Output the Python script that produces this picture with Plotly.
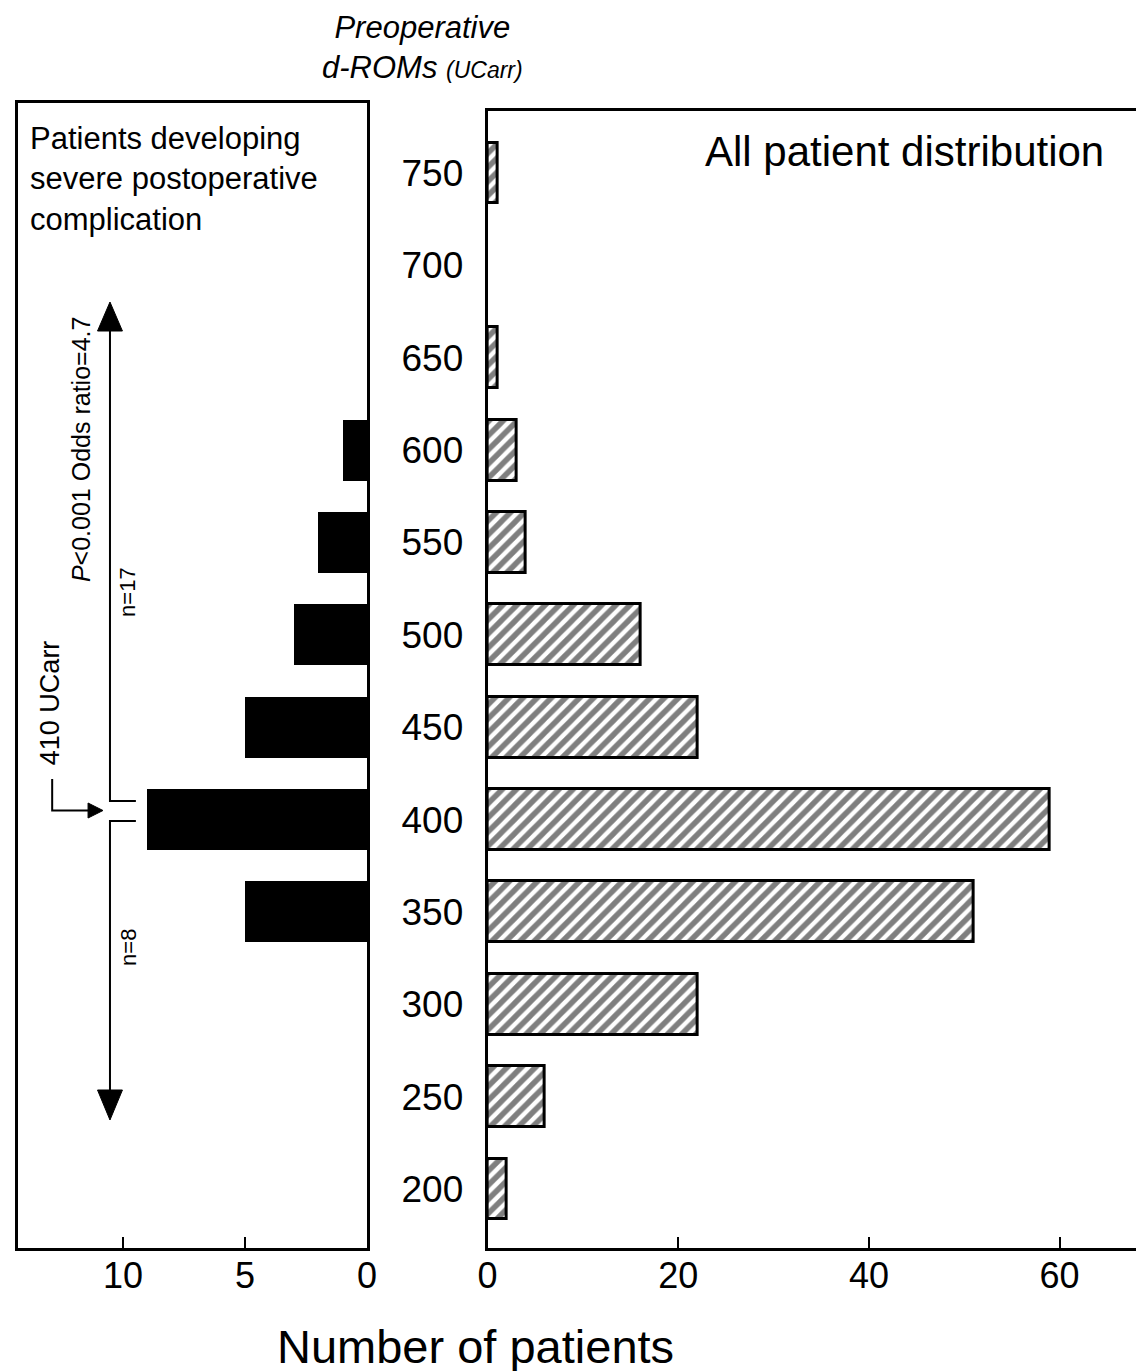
import plotly.graph_objects as go

# ---------------- data ----------------
droms_bins = [750, 700, 650, 600, 550, 500, 450, 400, 350, 300, 250, 200]
complication_counts = [0, 0, 0, 1, 2, 3, 5, 9, 5, 0, 0, 0]
all_patient_counts = [1, 0, 1, 3, 4, 16, 22, 59, 51, 22, 6, 2]
left_xticks = [10, 5, 0]
right_xticks = [0, 20, 40, 60]
threshold = 410

W, H = 1144, 1371
FONT = "Liberation Sans, Arial, Helvetica, sans-serif"
# observed page placement of the figure (page margin compensation)
X0, WEFF = 14.7, 1128.0
Y0 = 8


def px(x):
    return max(0.0, (x - X0) / WEFF)


def py(y):
    return 1 - (y - Y0) / H


# y scale helper (pixel -> data) for annotation geometry
Y_PER_PX = 550 / (1189 - 173)


def ydat(ypix):
    return 200 + (1189 - ypix) * Y_PER_PX


def nonzero(bins, counts):
    pairs = [(b, c) for b, c in zip(bins, counts) if c > 0]
    return [p[0] for p in pairs], [p[1] for p in pairs]


left_y, left_x = nonzero(droms_bins, complication_counts)
right_y, right_x = nonzero(droms_bins, all_patient_counts)

fig = go.Figure()

fig.add_trace(go.Bar(
    y=left_y, x=left_x, orientation="h",
    xaxis="x", yaxis="y", width=33,
    marker=dict(color="black", line=dict(width=0)),
    showlegend=False,
))

fig.add_trace(go.Bar(
    y=right_y, x=right_x, orientation="h",
    xaxis="x2", yaxis="y2", width=33,
    marker=dict(color="white",
                pattern=dict(shape="/", fgcolor="black", bgcolor="white",
                             size=10, solidity=0.55),
                line=dict(color="black", width=3)),
    showlegend=False,
))

axis_common = dict(showgrid=False, zeroline=False, linecolor="black",
                   linewidth=3, showline=True)

left_px_per_unit = 24.5
right_px_per_unit = 9.567
left_start = X0 + px(12) * WEFF

fig.update_layout(
    width=W, height=H,
    margin=dict(l=0, r=0, t=0, b=0),
    paper_bgcolor="white", plot_bgcolor="white",
    font=dict(family=FONT, color="black"),
    bargap=0,
    xaxis=dict(domain=[px(12), px(365)],
               range=[(365 - left_start) / left_px_per_unit, 0], anchor="y",
               tickvals=left_xticks, ticks="inside", ticklen=11, tickwidth=2,
               tickcolor="black", mirror=True, ticklabelstandoff=-6,
               tickfont=dict(size=36, family=FONT), **axis_common),
    yaxis=dict(domain=[py(1248), py(103)], range=[ydat(1248), ydat(103)],
               anchor="x", showticklabels=False, ticks="", mirror=True,
               **axis_common),
    xaxis2=dict(domain=[px(486), 1.0],
                range=[0, (X0 + WEFF - 486) / right_px_per_unit],
                anchor="y2", tickvals=right_xticks, ticks="inside", ticklen=11,
                tickwidth=2, tickcolor="black", mirror=True, ticklabelstandoff=-6,
                tickfont=dict(size=36, family=FONT), **axis_common),
    yaxis2=dict(domain=[py(1248), py(111)], range=[ydat(1248), ydat(111)],
                anchor="x2", tickvals=droms_bins, ticks="",
                ticklabelstandoff=14, mirror=False,
                tickfont=dict(size=37, family=FONT), **axis_common),
)

annotations = [
    dict(text="<i>Preoperative<br>d-ROMs <span style='font-size:23px'>(UCarr)</span></i>",
         x=px(421), y=py(48), xref="paper", yref="paper",
         xanchor="center", yanchor="middle", showarrow=False,
         font=dict(size=31, family=FONT), align="center"),
    dict(text="Patients developing<br>severe postoperative<br>complication",
         x=px(25), y=py(119), xref="paper", yref="paper",
         xanchor="left", yanchor="top", showarrow=False, align="left",
         font=dict(size=31, family=FONT)),
    dict(text="All patient distribution",
         x=px(904), y=py(151), xref="paper", yref="paper",
         xanchor="center", yanchor="middle", showarrow=False,
         font=dict(size=42, family=FONT)),
    dict(text="Number of patients",
         x=px(474), y=py(1346), xref="paper", yref="paper",
         xanchor="center", yanchor="middle", showarrow=False,
         font=dict(size=47, family=FONT)),
    dict(text="<i>P</i>&lt;0.001 Odds ratio=4.7",
         x=px(78), y=py(450), xref="paper", yref="paper",
         xanchor="center", yanchor="middle", showarrow=False, textangle=-90,
         font=dict(size=25, family=FONT)),
    dict(text="n=17",
         x=px(125), y=py(592), xref="paper", yref="paper",
         xanchor="center", yanchor="middle", showarrow=False, textangle=-90,
         font=dict(size=22, family=FONT)),
    dict(text="n=8",
         x=px(125), y=py(947), xref="paper", yref="paper",
         xanchor="center", yanchor="middle", showarrow=False, textangle=-90,
         font=dict(size=22, family=FONT)),
    dict(text="410 UCarr",
         x=px(47), y=py(703), xref="paper", yref="paper",
         xanchor="center", yanchor="middle", showarrow=False, textangle=-90,
         font=dict(size=27, family=FONT)),
]
fig.update_layout(annotations=annotations)

# bracket / arrow geometry (x in paper, y in data units of left panel)
gap_mid = ydat(810.5)
lower_bracket = ydat(821)
shapes = []
line_style = dict(color="black", width=2)
shapes.append(dict(type="path", xref="paper", yref="y",
                   path=f"M {px(107)},{ydat(328)} L {px(107)},{threshold} L {px(133)},{threshold}",
                   line=line_style))
shapes.append(dict(type="path", xref="paper", yref="y",
                   path=f"M {px(133)},{lower_bracket} L {px(107)},{lower_bracket} L {px(107)},{ydat(1092)}",
                   line=line_style))
shapes.append(dict(type="path", xref="paper", yref="y",
                   path=f"M {px(107)},{ydat(302)} L {px(94.5)},{ydat(331)} L {px(119.5)},{ydat(331)} Z",
                   fillcolor="black", line=dict(color="black", width=1)))
shapes.append(dict(type="path", xref="paper", yref="y",
                   path=f"M {px(107)},{ydat(1120)} L {px(94.5)},{ydat(1090)} L {px(119.5)},{ydat(1090)} Z",
                   fillcolor="black", line=dict(color="black", width=1)))
shapes.append(dict(type="path", xref="paper", yref="y",
                   path=f"M {px(49)},{ydat(779)} L {px(49)},{gap_mid} L {px(86)},{gap_mid}",
                   line=line_style))
shapes.append(dict(type="path", xref="paper", yref="y",
                   path=f"M {px(100)},{gap_mid} L {px(85)},{ydat(803)} L {px(85)},{ydat(818)} Z",
                   fillcolor="black", line=dict(color="black", width=1)))
fig.update_layout(shapes=shapes)

fig.write_html("out.html")
